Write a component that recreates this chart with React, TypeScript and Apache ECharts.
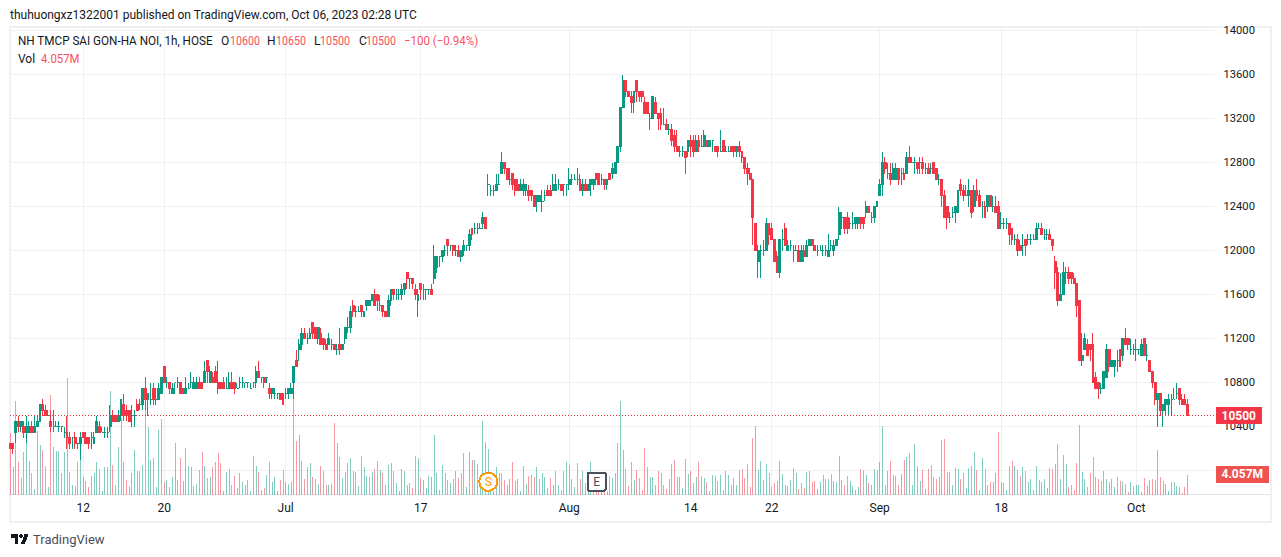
import React, { useEffect, useRef } from "react";
import * as echarts from "echarts";

const opens = [
10250,10250,10350,10450,10400,10400,10350,10350,10400,10350,
10400,10450,10600,10550,10500,10450,10400,10400,10400,10400,
10350,10350,10300,10300,10300,10250,10250,10350,10300,10300,
10300,10250,10350,10400,10350,10350,10350,10400,10500,10500,
10450,10500,10600,10550,10550,10500,10500,10600,10600,10600,
10750,10650,10650,10750,10650,10650,10700,10950,10800,10800,
10700,10800,10800,10800,10750,10700,10750,10800,10750,10750,
10800,10800,10800,11000,10800,10850,10900,10800,10800,10800,
10750,10750,10800,10800,10750,10800,10800,10800,10800,10750,
10800,10800,10900,10850,10850,10850,10750,10700,10700,10700,
10700,10700,10700,10700,10700,10800,11000,11100,11150,11250,
11200,11200,11350,11300,11200,11250,11200,11150,11150,11150,
11150,11100,11150,11100,11200,11300,11300,11500,11450,11450,
11500,11400,11500,11500,11550,11600,11600,11500,11500,11450,
11400,11550,11650,11600,11600,11600,11650,11800,11750,11750,
11650,11550,11700,11650,11650,11650,11650,11750,11850,11950,
11950,12000,12100,12050,12050,12000,12000,11950,12000,12050,
12050,12200,12200,12200,12200,12250,12300,12600,12550,12550,
12550,12600,12700,12800,12750,12650,12700,12650,12600,12550,
12550,12550,12550,12550,12500,12450,12450,12450,12500,12550,
12550,12550,12550,12600,12600,12600,12600,12600,12650,12650,
12650,12650,12550,12600,12550,12600,12600,12700,12700,12650,
12650,12600,12700,12700,12700,12800,12950,13300,13550,13450,
13400,13350,13550,13450,13450,13350,13350,13200,13200,13350,
13250,13250,13150,13150,13100,13100,13050,12950,12900,12900,
12900,12900,13000,13000,12900,13000,12950,12950,13000,12950,
13000,12950,12950,12900,13000,12900,12900,12950,12950,12900,
12950,12900,12850,12750,12700,12650,12250,11900,12000,12000,
12000,12250,12200,12100,11950,11800,12100,12200,12000,12050,
12000,12000,12000,11900,12000,11950,12050,12100,12050,12000,
12000,12000,12000,11950,12050,12000,12050,12150,12300,12300,
12300,12250,12250,12250,12250,12300,12300,12350,12400,12300,
12300,12400,12500,12600,12800,12700,12700,12650,12650,12750,
12700,12700,12700,12850,12800,12800,12800,12800,12800,12750,
12750,12750,12800,12750,12650,12650,12500,12400,12300,12350,
12350,12350,12600,12550,12500,12500,12550,12400,12550,12500,
12400,12400,12400,12500,12400,12400,12400,12250,12250,12250,
12250,12200,12100,12100,12050,12050,12100,12100,12100,12100,
12100,12200,12200,12150,12150,12150,12100,11900,11800,11550,
11600,11800,11800,11800,11750,11700,11550,11000,11100,11150,
11150,11150,10850,10800,10750,10750,10850,11100,10950,10950,
11000,11100,11050,11200,11200,11100,11100,11100,11100,11050,
11200,11050,11000,10900,10800,10650,10700,10550,10600,10600,
10650,10650,10700,10750,10650,10650,10600,
];

const highs = [
10250,10250,10450,10500,10450,10450,10500,10450,10450,10500,
10500,10600,10650,10600,10550,10550,10550,10450,10450,10400,
10400,10500,10350,10300,10350,10250,10350,10350,10350,10300,
10350,10350,10500,10450,10400,10400,10400,10600,10550,10500,
10550,10650,10700,10600,10550,10600,10550,10650,10650,10750,
10850,10700,10800,10800,10750,10800,10850,10950,10850,10800,
10800,10800,10850,10800,10750,10850,10800,10900,10850,10850,
10850,10800,11000,11000,10950,10900,10950,11000,10800,10850,
10850,10900,10900,10800,10800,10850,10850,10800,10800,10800,
10800,10950,11000,10850,10850,10850,10800,10750,10750,10700,
10700,10700,10750,10750,10800,10950,11100,11200,11300,11300,
11250,11300,11350,11300,11300,11300,11200,11200,11250,11200,
11150,11150,11300,11150,11300,11400,11500,11550,11500,11500,
11500,11450,11550,11550,11600,11650,11600,11600,11500,11450,
11600,11650,11650,11650,11650,11700,11700,11800,11750,11750,
11700,11650,11700,11700,11650,11650,11700,12050,11950,11950,
12000,12050,12100,12050,12050,12050,12050,12000,12100,12050,
12200,12200,12250,12250,12250,12350,12300,12700,12600,12600,
12700,12700,12900,12800,12750,12750,12700,12650,12650,12650,
12650,12600,12600,12550,12500,12500,12500,12550,12550,12600,
12600,12700,12700,12650,12600,12600,12600,12750,12700,12700,
12750,12700,12650,12650,12600,12650,12650,12700,12700,12700,
12650,12650,12700,12800,12800,12950,13300,13600,13550,13450,
13450,13450,13550,13450,13450,13400,13350,13250,13400,13400,
13250,13300,13300,13200,13150,13150,13100,13100,12950,12950,
12900,13000,13050,13050,13050,13050,13050,13100,13000,13000,
13000,12950,12950,13100,13000,12950,12950,12950,12950,12950,
13000,12900,12850,12800,12750,12650,12250,12050,12050,12100,
12300,12250,12250,12100,12000,12100,12200,12250,12100,12100,
12050,12050,12050,12050,12050,12100,12100,12100,12050,12050,
12050,12050,12050,12150,12100,12100,12100,12400,12350,12300,
12350,12300,12350,12300,12300,12300,12300,12450,12400,12350,
12400,12450,12650,12900,12850,12800,12800,12800,12800,12750,
12750,12750,12900,12950,12850,12850,12800,12850,12850,12800,
12800,12800,12800,12750,12700,12650,12550,12400,12350,12400,
12400,12550,12650,12600,12600,12650,12550,12600,12650,12550,
12450,12450,12500,12500,12500,12500,12450,12350,12300,12300,
12250,12200,12150,12150,12100,12150,12100,12150,12150,12150,
12250,12250,12250,12200,12200,12200,12100,11950,11850,11800,
11900,11850,11850,11800,11800,11700,11550,11250,11250,11200,
11150,11250,10900,10800,10800,10900,11150,11100,11000,11000,
11100,11100,11200,11300,11200,11200,11150,11200,11100,11200,
11200,11150,11000,10900,10800,10700,10700,10600,10650,10700,
10700,10750,10800,10750,10700,10700,10650,
];

const lows = [
10200,10150,10250,10350,10350,10300,10250,10350,10350,10350,
10400,10450,10500,10500,10500,10350,10350,10400,10350,10350,
10300,10200,10200,10200,10200,10200,10100,10300,10250,10200,
10200,10250,10350,10350,10350,10300,10300,10350,10450,10450,
10450,10450,10450,10450,10450,10400,10400,10550,10550,10550,
10550,10500,10600,10600,10600,10650,10700,10800,10750,10700,
10700,10700,10750,10700,10700,10700,10750,10750,10750,10750,
10750,10750,10800,10800,10800,10800,10800,10700,10750,10750,
10750,10750,10750,10700,10750,10750,10750,10750,10750,10750,
10750,10750,10850,10800,10750,10800,10650,10650,10650,10650,
10650,10600,10650,10650,10700,10650,10950,11000,11100,11200,
11150,11200,11200,11200,11150,11150,11100,11100,11150,11100,
11100,11050,11050,11100,11150,11250,11250,11400,11400,11450,
11400,11400,11450,11500,11550,11500,11450,11450,11400,11400,
11400,11500,11550,11550,11550,11550,11600,11650,11650,11650,
11550,11400,11550,11550,11550,11600,11600,11700,11800,11850,
11900,11950,11950,12000,11950,11950,11950,11900,11950,12000,
12000,12100,12150,12150,12200,12200,12200,12500,12500,12500,
12550,12600,12700,12700,12650,12600,12550,12500,12550,12550,
12500,12500,12450,12450,12400,12350,12450,12350,12450,12500,
12500,12550,12550,12550,12550,12500,12500,12550,12600,12650,
12600,12550,12500,12550,12550,12500,12550,12600,12600,12600,
12550,12550,12650,12650,12700,12800,12900,13300,13400,13400,
13250,13250,13350,13350,13350,13250,13250,13100,13200,13250,
13100,13100,13150,13100,13050,12950,12900,12900,12850,12850,
12700,12850,12850,12850,12900,12900,12950,12950,12950,12950,
12900,12900,12850,12900,12900,12900,12900,12900,12850,12850,
12850,12800,12700,12600,12650,12050,12000,11750,11750,11950,
12000,12050,12100,11900,11800,11750,12000,12050,12000,12000,
11900,12000,11900,11900,11900,11950,12050,12050,12000,11950,
12000,11950,11950,11950,12000,11950,12050,12100,12200,12150,
12150,12200,12200,12200,12200,12200,12200,12300,12350,12250,
12250,12400,12500,12500,12700,12650,12600,12650,12650,12600,
12600,12650,12700,12800,12800,12700,12700,12700,12700,12700,
12700,12700,12700,12650,12600,12400,12300,12200,12250,12300,
12250,12350,12500,12450,12500,12400,12300,12350,12450,12400,
12300,12300,12350,12400,12350,12350,12200,12200,12200,12200,
12050,12050,12050,11950,12000,11950,11950,12050,12050,12100,
12100,12200,12150,12100,12100,12100,12000,11650,11500,11550,
11600,11700,11700,11700,11700,11400,11000,10950,11100,11050,
11000,10800,10750,10650,10700,10750,10850,10900,10950,10850,
10900,10950,11000,11150,11100,11050,11050,11000,11050,11050,
11050,11000,10900,10750,10600,10400,10500,10400,10500,10500,
10500,10650,10650,10600,10600,10600,10500,
];

const closes = [
10200,10200,10450,10400,10450,10350,10400,10400,10350,10400,
10450,10600,10550,10500,10500,10400,10400,10400,10400,10400,
10350,10300,10250,10300,10250,10250,10300,10300,10250,10250,
10300,10300,10450,10350,10350,10350,10350,10500,10450,10450,
10500,10650,10500,10500,10450,10500,10500,10550,10600,10750,
10650,10700,10650,10650,10650,10750,10850,10800,10800,10750,
10750,10800,10800,10700,10700,10750,10750,10800,10800,10800,
10750,10750,10900,10900,10900,10800,10800,10750,10750,10750,
10750,10800,10750,10750,10750,10800,10800,10800,10800,10750,
10800,10900,10850,10850,10800,10850,10700,10750,10700,10700,
10650,10600,10700,10750,10750,10950,10950,11150,11250,11200,
11200,11250,11250,11200,11300,11150,11150,11100,11200,11150,
11100,11100,11100,11150,11300,11300,11450,11450,11450,11450,
11450,11450,11550,11550,11600,11500,11550,11500,11450,11400,
11550,11650,11600,11600,11600,11650,11700,11750,11750,11700,
11600,11600,11650,11650,11650,11650,11600,11950,11950,11950,
12000,12000,12050,12050,12000,12000,11950,12000,12050,12050,
12150,12150,12200,12200,12200,12300,12200,12600,12550,12550,
12600,12600,12800,12750,12650,12650,12600,12550,12550,12600,
12600,12600,12500,12500,12400,12500,12500,12450,12500,12500,
12500,12600,12600,12600,12550,12600,12600,12650,12650,12650,
12650,12550,12600,12550,12600,12650,12650,12650,12600,12650,
12600,12650,12650,12750,12800,12950,13300,13550,13450,13400,
13350,13450,13450,13400,13400,13250,13250,13200,13400,13250,
13200,13150,13150,13100,13100,13000,12950,12900,12900,12900,
12850,13000,12950,12900,13000,12950,12950,13050,12950,13000,
13000,12900,12900,12900,12900,12900,12900,12900,12900,12950,
12900,12850,12750,12700,12650,12300,12000,12000,12000,12000,
12250,12150,12100,11900,11800,12100,12100,12050,12050,12050,
12000,12000,11900,12000,11950,12050,12100,12050,12000,12000,
12000,12000,12000,12000,12050,12050,12100,12350,12300,12200,
12200,12250,12250,12300,12300,12250,12250,12400,12350,12300,
12400,12450,12600,12800,12750,12700,12650,12750,12750,12650,
12700,12650,12850,12800,12800,12800,12750,12800,12750,12750,
12700,12750,12700,12650,12650,12500,12300,12300,12300,12350,
12400,12550,12550,12500,12500,12550,12350,12550,12500,12400,
12400,12300,12500,12400,12400,12350,12200,12250,12250,12250,
12150,12100,12100,12000,12000,12050,12050,12100,12100,12100,
12200,12200,12150,12150,12150,12100,12050,11800,11550,11600,
11800,11800,11750,11750,11700,11500,11000,11050,11200,11050,
11100,10800,10750,10750,10750,10900,11100,10950,11000,11000,
11000,10950,11200,11150,11150,11100,11100,11100,11100,11150,
11050,11050,10900,10800,10650,10700,10550,10600,10650,10650,
10650,10650,10700,10650,10600,10600,10500,
];

// volume, in units of 0.2M
const volumes = [
62,28,94,33,17,43,64,34,22,6,
64,50,45,29,8,100,48,44,44,22,
43,117,23,10,9,33,39,18,14,8,
19,22,33,26,4,28,28,104,30,10,
48,77,33,15,9,22,45,24,24,30,
86,68,35,37,8,65,76,13,15,8,
18,52,15,37,14,47,29,28,9,11,
25,43,29,17,18,28,33,42,32,4,
23,26,10,19,7,22,13,10,15,4,
39,29,23,5,7,20,33,13,18,4,
15,25,13,11,13,96,54,60,34,16,
28,32,18,16,11,29,24,10,10,11,
72,52,38,17,23,32,37,24,23,9,
39,28,19,18,23,26,34,25,22,10,
30,32,24,12,4,26,24,10,12,7,
39,37,17,15,7,19,18,60,22,5,
30,22,15,12,16,24,17,22,42,8,
43,35,35,31,20,74,53,46,4,4,
28,22,22,15,10,16,33,14,16,4,
29,11,19,20,18,28,16,22,18,7,
17,10,24,10,5,24,33,30,16,8,
32,16,24,12,14,33,4,4,4,4,
4,4,19,17,22,52,94,45,26,9,
33,15,25,17,5,47,28,18,18,10,
24,22,10,6,16,31,35,18,18,7,
36,21,24,12,18,33,19,17,13,4,
20,19,14,20,5,24,20,10,17,10,
25,26,17,31,8,57,69,25,34,15,
31,22,8,12,14,34,21,10,9,15,
27,22,6,12,7,23,24,13,14,6,
13,20,16,16,21,14,13,39,15,10,
19,14,9,5,8,26,25,20,12,10,
26,25,33,69,10,24,34,20,19,10,
21,35,38,42,10,51,29,14,25,6,
26,30,18,16,18,55,56,23,23,10,
27,26,16,22,7,27,29,43,25,5,
37,26,10,13,13,22,63,13,12,5,
29,34,29,25,19,28,24,13,16,5,
29,15,13,16,7,27,26,31,51,16,
40,31,8,10,5,32,70,23,16,8,
22,38,18,16,14,24,16,13,16,8,
18,14,13,11,3,13,9,10,10,3,
17,9,15,16,15,45,18,14,11,4,
13,13,9,8,2,8,20,
];

const tickLabels = ["12", "20", "Jul", "17", "Aug", "14", "22", "Sep", "18", "Oct"];
const tickIndexes = [27, 57, 102, 152, 207, 252, 282, 322, 367, 417];
const priceTicks = [14000, 13600, 13200, 12800, 12400, 12000, 11600, 11200, 10800, 10400, 10000];
const lastPrice = 10500;
const lastVolume = 4.057;

const slotCount = 447;
const volumeUnit = 0.2;

const UP = "#089981";
const DOWN = "#F23645";
const FONT = "Roboto, sans-serif";
const TEXT = "#131722";
const GRID = "#f0f0f3";

const logoPath = "M14 22H7V11H0V4h14v18zM28 22h-8l7.5-18h8L28 22z";
echarts.graphic.registerShape("tvlogo", echarts.graphic.extendPath(logoPath as any, {}) as any);

function txt(x: number, y: number, text: string, fill: string, scaleX = 1, fontSize = 12) {
  return { type: "text", x, y, scaleX, z: 100, silent: true, style: { text, fill, font: `${fontSize}px ${FONT}`, verticalAlign: "middle" } };
}

export default function App() {
  const ref = useRef<HTMLDivElement>(null);
  useEffect(() => {
    const chart = echarts.init(ref.current!, undefined, { renderer: "svg" });
    const categories = Array.from({ length: slotCount }, (_, i) => {
      const k = tickIndexes.indexOf(i);
      return k >= 0 ? tickLabels[k] : "";
    });
    const isTick = (i: number) => tickIndexes.includes(i);
    const candles = opens.map((o, i) => {
      const c = closes[i];
      const col = c < o ? DOWN : UP;
      return {
        value: [o, c, lows[i], highs[i]],
        itemStyle: { color: col, color0: col, borderColor: col, borderColor0: col, borderColorDoji: col },
      };
    });
    const vols = volumes.map((v, i) => ({
      value: +(v * volumeUnit).toFixed(3),
      itemStyle: { color: closes[i] < opens[i] ? "rgba(242,54,69,0.5)" : "rgba(8,153,129,0.5)" },
    }));
    chart.setOption({
      animation: false,
      backgroundColor: "#ffffff",
      grid: { left: 10.3, right: 66.5, top: 27.5, bottom: 62.5, show: false },
      xAxis: {
        type: "category",
        boundaryGap: false,
        data: categories,
        axisLine: { show: true, lineStyle: { color: "#e0e3eb", width: 1 } },
        axisTick: { show: false, interval: (i: number) => isTick(i) },
        axisLabel: { interval: (i: number) => isTick(i), color: TEXT, fontSize: 12, fontFamily: FONT, margin: 7 },
        splitLine: { show: true, interval: (i: number) => isTick(i), lineStyle: { color: GRID, width: 1 } },
      },
      yAxis: [
        {
          type: "value",
          position: "right",
          min: 14000 - 464 / 0.11,
          max: 14000 + 3 / 0.11,
          scale: true,
          axisLine: { show: false },
          axisTick: { show: false, customValues: priceTicks },
          axisLabel: { customValues: priceTicks, color: TEXT, fontSize: 11.2, fontFamily: FONT, margin: 9, formatter: (v: number) => String(Math.round(v)) },
          splitLine: { show: true, lineStyle: { color: GRID, width: 1 } },
        },
        {
          type: "value",
          position: "right",
          min: 0,
          max: 467 * volumeUnit,
          show: false,
          splitLine: { show: false },
        },
      ],
      series: [
        {
          type: "bar",
          name: "Vol",
          yAxisIndex: 1,
          data: vols,
          barWidth: 1,
          clip: false,
          z: 2,
          markLine: {
            silent: true,
            symbol: "none",
            z: 50,
            lineStyle: { color: "rgba(0,0,0,0)", width: 0 },
            label: {
              position: "end",
              distance: 1,
              formatter: lastVolume.toFixed(3) + "M",
              color: "#fff",
              fontWeight: "bold",
              fontSize: 12,
              fontFamily: FONT,
              backgroundColor: "#ef5350",
              padding: [0, 6],
              lineHeight: 17,
              align: "left",
            },
            data: [{ yAxis: lastVolume }],
          },
        },
        {
          type: "candlestick",
          name: "Price",
          yAxisIndex: 0,
          data: candles,
          barWidth: 2.4,
          clip: false,
          z: 3,
          itemStyle: { borderWidth: 1 },
          markLine: {
            silent: true,
            symbol: "none",
            z: 50,
            lineStyle: { color: DOWN, type: [1, 2], width: 1 },
            label: {
              position: "end",
              distance: 1,
              formatter: String(lastPrice),
              color: "#fff",
              fontWeight: "bold",
              fontSize: 12,
              fontFamily: FONT,
              backgroundColor: DOWN,
              padding: [0, 6],
              lineHeight: 17,
              align: "left",
            },
            data: [{ yAxis: lastPrice }],
          },
        },
      ],
      graphic: [
        { type: "rect", z: -1, silent: true, shape: { x: 10, y: 27, width: 1261, height: 495 }, style: { fill: "none", stroke: "#eff0f6", lineWidth: 2 } },
        { type: "line", z: 1, silent: true, shape: { x1: 1215, y1: 494.5, x2: 1270, y2: 494.5 }, style: { stroke: "#e0e3eb", lineWidth: 1 } },
        txt(10, 15, "thuhuongxz1322001 published on TradingView.com, Oct 06, 2023 02:28 UTC", TEXT),
        txt(18, 41, "NH TMCP SAI GON-HA NOI, 1h, HOSE", TEXT, 0.975),
        txt(221, 41, "O", TEXT), txt(230, 41, "10600", "#f7525f", 0.89),
        txt(267, 41, "H", TEXT), txt(276, 41, "10650", "#f7525f", 0.89),
        txt(314, 41, "L", TEXT), txt(320, 41, "10500", "#f7525f", 0.89),
        txt(359, 41, "C", TEXT), txt(366, 41, "10500", "#f7525f", 0.89),
        txt(404, 41, "\u2212100 (\u22120.94%)", "#f7525f", 0.96),
        txt(18, 59, "Vol", TEXT), txt(41, 59, "4.057M", "#f7525f", 0.95),
        { type: "circle", z: 90, silent: true, shape: { cx: 488.3, cy: 481.7, r: 9 }, style: { fill: "#fff", stroke: "#ff9800", lineWidth: 2 } },
        { type: "text", z: 100, x: 488.3, y: 481.7, silent: true, style: { text: "S", fill: "#ff9800", font: `12px ${FONT}`, align: "center", verticalAlign: "middle" } },
        { type: "rect", z: 90, silent: true, shape: { x: 587.7, y: 472.7, width: 18, height: 18, r: 2 }, style: { fill: "#fff", stroke: "#4a4e59", lineWidth: 2 } },
        { type: "text", z: 100, x: 596.7, y: 481.7, silent: true, style: { text: "E", fill: "#4a4e59", font: `12px ${FONT}`, align: "center", verticalAlign: "middle" } },
        { type: "tvlogo", z: 100, x: 11, y: 531.5, scaleX: 0.5, scaleY: 0.55, silent: true, style: { fill: "#131722" } },
        { type: "circle", z: 100, silent: true, shape: { cx: 21, cy: 536, r: 2.1 }, style: { fill: "#131722" } },
        txt(33, 539, "TradingView", "#4a4e59", 1, 13),
      ],
    });
    return () => chart.dispose();
  }, []);
  return (
    <>
      <style>{"#root svg path{shape-rendering:crispEdges}"}</style>
      <div ref={ref} style={{ position: "absolute", left: 0, top: 0, width: 1281, height: 557 }} />
    </>
  );
}
